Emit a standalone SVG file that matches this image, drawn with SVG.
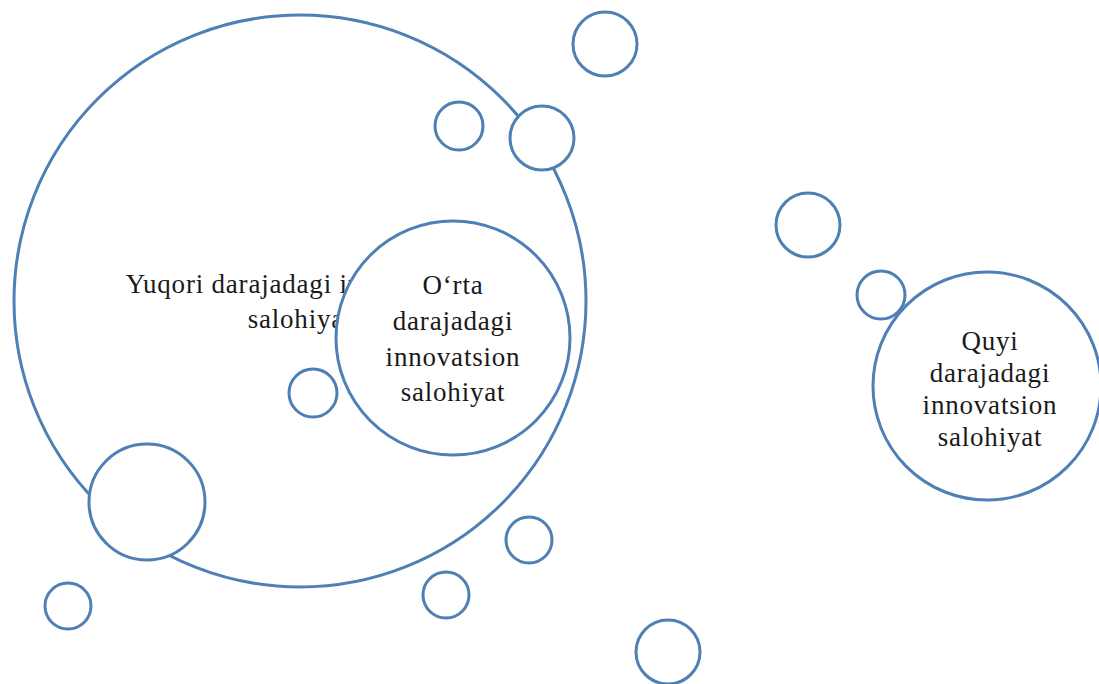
<svg xmlns="http://www.w3.org/2000/svg" width="1099" height="684" viewBox="0 0 1099 684">
<style>
.c{fill:#fff;stroke:#4e7fb5;stroke-width:3}
.big{fill:none;stroke:#4e7fb5;stroke-width:3}
.t{font-family:"Liberation Serif","Times New Roman",serif;font-size:27px;fill:#1a1a1a;text-anchor:middle;letter-spacing:0.8px}
</style>
<rect width="1099" height="684" fill="#fff"/>
<g id="yuqori">
<circle class="big" cx="300" cy="301" r="286"/>
<text class="t" x="300" y="293">Yuqori darajadagi innovatsion</text>
<text class="t" x="300" y="328">salohiyat</text>
</g>
<g id="orta">
<circle class="c" cx="453" cy="338" r="117"/>
<text class="t" x="453" y="294">O‘rta</text>
<text class="t" x="453" y="330">darajadagi</text>
<text class="t" x="453" y="366">innovatsion</text>
<text class="t" x="453" y="401">salohiyat</text>
</g>
<g id="quyi">
<circle class="c" cx="987" cy="386" r="114"/>
<text class="t" x="990" y="350">Quyi</text>
<text class="t" x="990" y="382">darajadagi</text>
<text class="t" x="990" y="414">innovatsion</text>
<text class="t" x="990" y="446">salohiyat</text>
</g>
<g id="bubbles">
<circle class="c" cx="605" cy="44" r="32"/>
<circle class="c" cx="459" cy="126" r="24"/>
<circle class="c" cx="542" cy="138" r="32"/>
<circle class="c" cx="808" cy="225" r="32"/>
<circle class="c" cx="881" cy="295" r="24"/>
<circle class="c" cx="313" cy="393" r="24"/>
<circle class="c" cx="147" cy="502" r="58"/>
<circle class="c" cx="529" cy="540" r="23"/>
<circle class="c" cx="446" cy="595" r="23"/>
<circle class="c" cx="68" cy="606" r="23"/>
<circle class="c" cx="668" cy="652" r="32"/>
</g>
<g id="connectors"></g>
</svg>
